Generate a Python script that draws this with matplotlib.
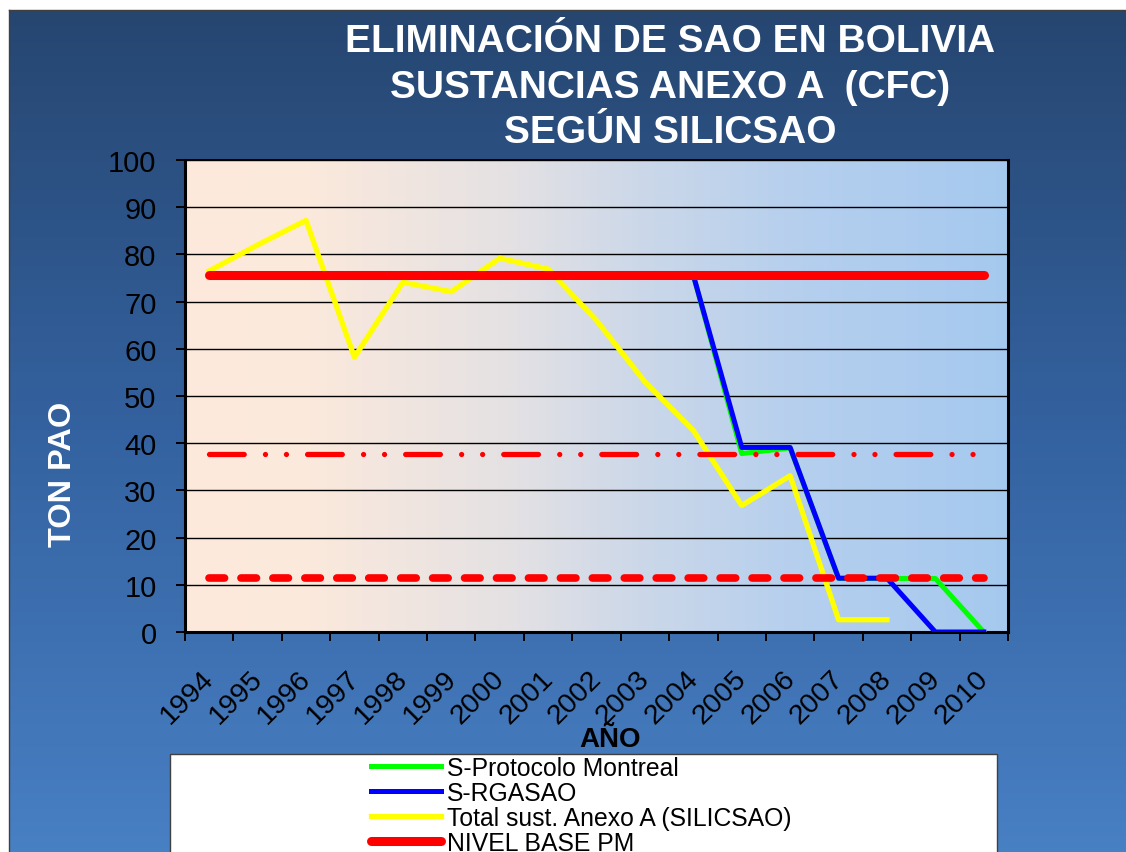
import numpy as np
import matplotlib
matplotlib.use("Agg")
import matplotlib.pyplot as plt
from matplotlib.colors import LinearSegmentedColormap
from matplotlib.patches import Rectangle
from matplotlib.transforms import ScaledTranslation

plt.rcParams['font.family'] = ['Liberation Sans', 'DejaVu Sans']
plt.rcParams['lines.scale_dashes'] = False

# Datos (TON PAO)
anios = ["1994", "1995", "1996", "1997", "1998", "1999", "2000", "2001", "2002",
         "2003", "2004", "2005", "2006", "2007", "2008", "2009", "2010"]
nan = np.nan
s_protocolo = [nan, nan, nan, nan, nan, nan, nan, nan, nan, nan,
               75.6, 37.8, 39.0, 11.34, 11.34, 11.34, 0.0]
s_rgasao = [nan, nan, nan, nan, nan, nan, nan, nan, nan, nan,
            75.6, 39.1, 39.1, 11.4, 11.4, 0.0, 0.0]
total_anexo_a = [76.5, 82.0, 87.2, 58.2, 74.1, 72.1, 79.2, 76.9, 66.0,
                 53.0, 42.7, 26.8, 33.1, 2.6, 2.6, nan, nan]
nivel_base = 75.6
nivel_50 = 37.8
nivel_15 = 11.34

W, H = 1126, 853
fig = plt.figure(figsize=(W / 100, H / 100), dpi=100, facecolor='white')

# fondo degradado azul
bg = fig.add_axes([9 / W, 0, 1 - 9 / W, 1 - 11 / H], zorder=-10)
bg_cmap = LinearSegmentedColormap.from_list("bg", ["#264670", "#3462A0", "#4880C4"])
bg.imshow(np.linspace(0, 1, 256)[:, None], cmap=bg_cmap, aspect='auto', extent=[0, 1, 0, 1])
bg.set_xticks([])
bg.set_yticks([])
for s in ["right", "bottom"]:
    bg.spines[s].set_visible(False)
for s in ["top", "left"]:
    bg.spines[s].set_color("#404040")
    bg.spines[s].set_linewidth(1)

ax = fig.add_axes([185 / W, 1 - 633 / H, (1008 - 185) / W, (633 - 161) / H])

ax.plot(anios, s_protocolo, color="#00FF00", lw=3.6, label="S-Protocolo Montreal", zorder=3)
ax.plot(anios, s_rgasao, color="#0000FF", lw=3.6, label="S-RGASAO", zorder=3)
ax.plot(anios, total_anexo_a, color="#FFFF00", lw=3.8, label="Total sust. Anexo A (SILICSAO)", zorder=3)
ax.plot([anios[0], anios[-1]], [nivel_base, nivel_base], color="#FF0000", lw=6.5,
        solid_capstyle='round', label="NIVEL BASE PM", zorder=4)
ax.plot([anios[0], anios[-1]], [nivel_50, nivel_50], color="#FF0000", lw=3.8,
        dashes=[25.0, 15.3, 0.01, 15.1, 0.01, 15.2], dash_capstyle='round', zorder=4)
ax.plot([anios[0], anios[-1]], [nivel_15, nivel_15], color="#FF0000", lw=5.5,
        dashes=[11.2, 11.8], dash_capstyle='round', zorder=4)

# fondo del area de trazado
area_cmap = LinearSegmentedColormap.from_list(
    "area", [(0, "#FDEADB"), (0.15, "#FBE9DC"), (0.4, "#E4E1E4"),
             (0.55, "#CCD8E9"), (0.75, "#B5CFEE"), (1, "#A5C9EF")])
ax.imshow(np.linspace(0, 1, 256)[None, :], cmap=area_cmap, aspect='auto',
          extent=[0, 1, 0, 1], transform=ax.transAxes, zorder=0)

ax.set_xlim(-0.5, len(anios) - 0.5)
ax.set_ylim(0, 100)
ax.set_yticks(range(0, 101, 10))
ax.yaxis.grid(True, color="black", lw=1.0)

ax.set_xticks(np.arange(-0.5, len(anios), 1), minor=True)
ax.tick_params(axis='x', which='minor', length=6.5, width=1.4, direction='out')
ax.tick_params(axis='x', which='major', length=0, pad=30.5, labelsize=20.5)
ax.tick_params(axis='y', length=6.5, width=1.4, pad=14, labelsize=21, direction='out')

offset = ScaledTranslation(1 / 100, 0, fig.dpi_scale_trans)
for lab in ax.get_xticklabels():
    lab.set_rotation(45)
    lab.set_ha('right')
    lab.set_va('center')
    lab.set_rotation_mode('anchor')
    lab.set_transform(lab.get_transform() + offset)

for s in ["left", "bottom", "right"]:
    ax.spines[s].set_linewidth(2.2)
ax.spines["top"].set_linewidth(1.4)

# textos
titulo = ["ELIMINACIÓN DE SAO EN BOLIVIA", "SUSTANCIAS ANEXO A  (CFC)", "SEGÚN SILICSAO"]
for txt, yb in zip(titulo, [52, 98, 143]):
    fig.text(670 / W, 1 - yb / H, txt, color="white", fontsize=28, fontweight="bold",
             ha="center", va="baseline")

fig.text(63 / W, 1 - 474 / H, "TON PAO", color="white", fontsize=23.4, fontweight="bold",
         rotation=90, ha="center", va="center")
fig.text(610 / W, 1 - 747 / H, "AÑO", color="black", fontsize=20, fontweight="bold",
         ha="center", va="baseline", zorder=6)

# leyenda
caja = Rectangle((170 / W, -0.02), (997 - 170) / W, (853 - 755) / H + 0.02, transform=fig.transFigure,
                 facecolor="white", edgecolor="#404040", lw=1, zorder=1)
fig.add_artist(caja)
handles, labels = ax.get_legend_handles_labels()
fig.legend(handles, labels, loc="upper left", bbox_to_anchor=(371 / W, 1 - 757 / H),
           frameon=False, fontsize=17.8, handlelength=2.83, handletextpad=0.24,
           labelspacing=0.04, borderpad=0, borderaxespad=0)

fig.savefig("out.png", dpi=100, facecolor=fig.get_facecolor())
